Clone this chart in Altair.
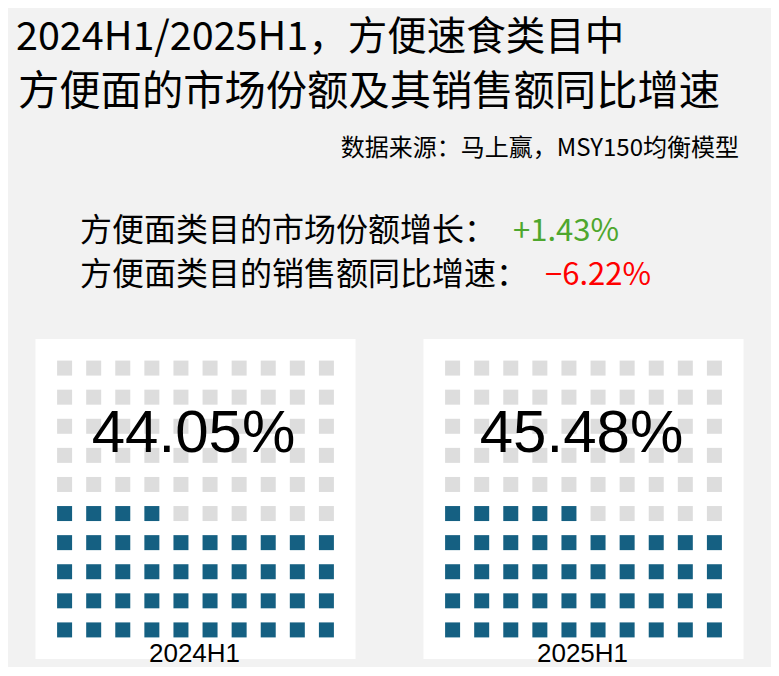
import altair as alt
import pandas as pd

# ---- data ----
title_lines = ["2024H1/2025H1，方便速食类目中", "方便面的市场份额及其销售额同比增速"]
source_text = "数据来源：马上赢，MSY150均衡模型"
periods = ["2024H1", "2025H1"]
shares = [44.05, 45.48]
metric_labels = ["方便面类目的市场份额增长：", "方便面类目的销售额同比增速："]
metric_values = [1.43, -6.22]
metric_colors = ["#4ea72e", "#ff0000"]
grid_cols = 10
grid_rows = 10

CJK = "Noto Sans CJK SC"
LAT = "Liberation Sans"

dummy = pd.DataFrame({"d": [0]})


def txt(text, x, y, size, color="black", align="left", font=CJK):
    return alt.Chart(dummy).mark_text(
        text=text, align=align, baseline="alphabetic",
        fontSize=size, font=font, color=color
    ).encode(x=alt.value(x), y=alt.value(y))


header_layers = [
    txt(title_lines[0], 8, 42, 39.5),
    txt(title_lines[1], 10, 97, 41.3),
    txt(source_text, 731, 148, 24, align="right"),
]
label_y = [233, 277]
value_x = [505, 537]
for lab, val, col, yy, vx in zip(metric_labels, metric_values, metric_colors, label_y, value_x):
    header_layers.append(txt(lab, 72, yy, 32))
    header_layers.append(
        alt.Chart(pd.DataFrame({"v": [val]}))
        .transform_calculate(label="format(datum.v, '+.2f') + '%'")
        .mark_text(align="left", baseline="alphabetic", fontSize=31, font=CJK, color=col)
        .encode(x=alt.value(vx), y=alt.value(yy), text="label:N")
    )

header = alt.layer(*header_layers).properties(
    width=763, height=331,
    view=alt.ViewBackground(fill="transparent", stroke="transparent"),
)

panels = []
for period, share in zip(periods, shares):
    n_filled = int(round(share))
    cells = pd.DataFrame([
        {"col": k % grid_cols, "row": k // grid_cols,
         "state": "filled" if k < n_filled else "empty"}
        for k in range(grid_cols * grid_rows)
    ])
    xs = alt.Scale(domain=[-1, grid_cols], nice=False, zero=False)
    ys = alt.Scale(domain=[-1, grid_rows], nice=False, zero=False)
    squares = alt.Chart(cells).mark_square(size=225, opacity=1).encode(
        x=alt.X("col:Q", scale=xs, axis=None),
        y=alt.Y("row:Q", scale=ys, axis=None),
        color=alt.Color("state:N",
                        scale=alt.Scale(domain=["filled", "empty"], range=["#156082", "#dddddd"]),
                        legend=None),
    )
    info = pd.DataFrame({"period": [period], "share": [share]})
    pct = alt.Chart(info).transform_calculate(
        label="format(datum.share, '.2f') + '%'"
    ).mark_text(font=LAT, fontSize=60, align="center", baseline="alphabetic", color="black").encode(
        x=alt.value(158), y=alt.value(113), text="label:N"
    )
    lab = alt.Chart(info).mark_text(font=LAT, fontSize=26, align="center", baseline="alphabetic",
                                    color="black").encode(
        x=alt.value(159), y=alt.value(323), text="period:N"
    )
    panels.append(
        alt.layer(squares, pct, lab).properties(
            width=320, height=320,
            view=alt.ViewBackground(fill="white", stroke="transparent"),
        )
    )

chart = alt.vconcat(
    header,
    alt.hconcat(*panels, spacing=68),
    spacing=0,
    center=True,
).properties(background="#f2f2f2", padding=0).configure_view(strokeWidth=0)

chart.save("out.html", embed_options={"renderer": "svg", "actions": False})
